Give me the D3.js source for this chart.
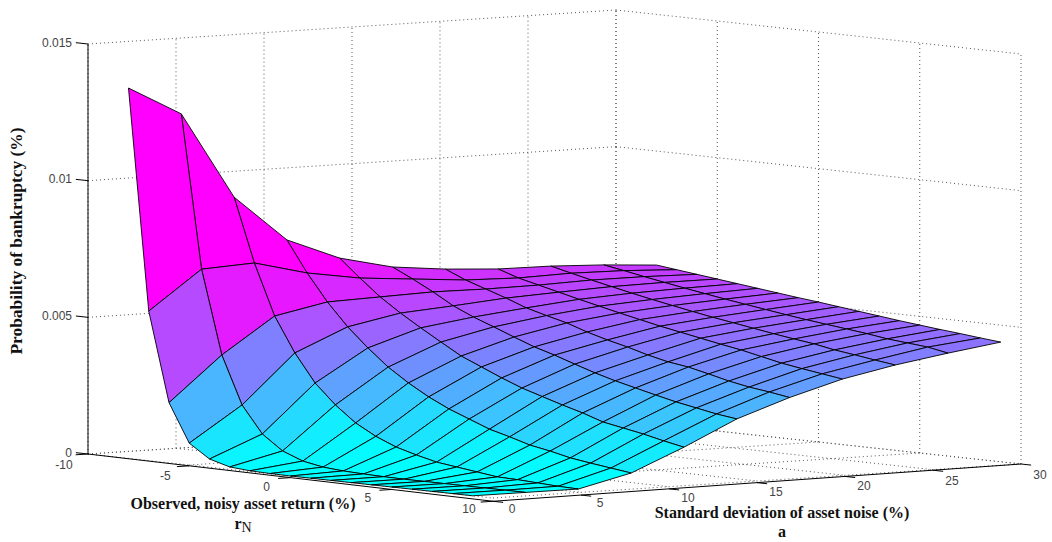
<!DOCTYPE html>
<html>
<head>
<meta charset="utf-8">
<script src="https://d3js.org/d3.v7.min.js"></script>
<style>
  html, body { margin: 0; padding: 0; background: #fff; }
  svg { display: block; }
  .tick-label { font-family: "Liberation Sans", Arial, sans-serif; font-size: 12px; fill: #444; text-anchor: middle; }
  .axis-title { font-family: "Liberation Serif", "Times New Roman", serif; font-size: 16px; font-weight: bold; fill: #111; text-anchor: middle; }
  .grid { fill: none; stroke: #555; stroke-width: 1; stroke-dasharray: 1 3; }
  .axis-line { stroke: #000; stroke-width: 1; fill: none; }
  .face { stroke: #000; stroke-width: 0.9; stroke-linejoin: round; }
</style>
</head>
<body>
<svg width="1052" height="542"></svg>
<script>
var aTicks = [0, 5, 10, 15, 20, 25, 30];
var rTicks = [-10, -5, 0, 5, 10];
var zTicks = [0, 0.005, 0.01, 0.015];
var zTickLabels = ["0", "0.005", "0.01", "0.015"];

// surface grid
var aValues = [0, 3, 6, 9, 12, 15, 18, 21, 24, 27, 30];
var rValues = [-8, -7, -6, -5, -4, -3, -2, -1, 0, 1, 2, 3, 4, 5, 6, 7, 8, 9];

// probability, one list per a, r from -8 to 9
var zA0  = [.01355, .00547, .0022, .0008, .0003, .00009, .00003, .00001, 0, 0, 0, 0, 0, 0, 0, 0, 0, 0];
var zA3  = [.01248, .00688, .00382, .00207, .00109, .00055, .00026, .00012, .00006, .00003, .00001, 0, 0, 0, 0, 0, 0, 0];
var zA6  = [.00931, .00698, .00512, .00385, .00283, .00211, .00153, .00112, .00081, .0006, .00042, .00032, .00022, .00012, .0001, .00006, .00002, 0];
var zA9  = [.00762, .00649, .00551, .00468, .00399, .00337, .00287, .00244, .00208, .00179, .0015, .0013, .00108, .00094, .00077, .00066, .00056, .00046];
var zA12 = [.00683, .00618, .00557, .00506, .0046, .00416, .00373, .00341, .00309, .0028, .00257, .00234, .00213, .00188, .00174, .0016, .00143, .00128];
var zA15 = [.00638, .00602, .00563, .0052, .00487, .00459, .0043, .00402, .0038, .00355, .00331, .0031, .00292, .00274, .00257, .00243, .00229, .00219];
var zA18 = [.00618, .00586, .00561, .00536, .00508, .00488, .00469, .00444, .00423, .00405, .00384, .00367, .00356, .00339, .00321, .00307, .00297, .00285];
var zA21 = [.00606, .00581, .00563, .00545, .00527, .0051, .00493, .00477, .00461, .00447, .00433, .00419, .00406, .0039, .00374, .00362, .00351, .0034];
var zA24 = [.00604, .00586, .00569, .00553, .00537, .00522, .00508, .00494, .00481, .00469, .00457, .00445, .00434, .00424, .0041, .004, .00389, .00379];
var zA27 = [.00596, .00583, .00569, .00556, .00543, .00531, .00519, .00508, .00497, .00486, .00476, .00467, .00458, .00449, .00438, .00431, .00424, .0041];
var zA30 = [.00583, .00574, .00565, .00556, .00547, .00538, .00529, .0052, .00512, .00503, .00494, .00485, .00476, .00468, .0046, .00453, .00445, .00438];
var zByA = [zA0, zA3, zA6, zA9, zA12, zA15, zA18, zA21, zA24, zA27, zA30];

var svg = d3.select("svg");

// oblique box: each data axis adds its own screen shift
var originX = 88, originY = 454;
var aToX = d3.scaleLinear().domain([0, 30]).range([0, 528]);
var aToY = d3.scaleLinear().domain([0, 30]).range([0, -34]);
var rToX = d3.scaleLinear().domain([-10, 10]).range([0, 405]);
var rToY = d3.scaleLinear().domain([-10, 10]).range([0, 44]);
var zToY = d3.scaleLinear().domain([0, 0.015]).range([0, -410]);

var color = d3.scaleLinear().domain([0, 0.0077]).range(["#00ffff", "#ff00ff"]).clamp(true);

function px(a, r) { return originX + aToX(a) + rToX(r); }
function py(a, r, z) { return originY + aToY(a) + rToY(r) + zToY(z); }

function segment(sel, cls, a0, r0, z0, a1, r1, z1) {
  sel.append("line")
    .attr("class", cls)
    .attr("x1", px(a0, r0)).attr("y1", py(a0, r0, z0))
    .attr("x2", px(a1, r1)).attr("y2", py(a1, r1, z1));
}

var grid = svg.append("g");
aTicks.forEach(function(a) {
  segment(grid, "grid", a, -10, 0, a, 10, 0);
  segment(grid, "grid", a, -10, 0, a, -10, 0.015);
});
rTicks.forEach(function(r) {
  segment(grid, "grid", 0, r, 0, 30, r, 0);
  segment(grid, "grid", 30, r, 0, 30, r, 0.015);
});
zTicks.forEach(function(z) {
  segment(grid, "grid", 0, -10, z, 30, -10, z);
  segment(grid, "grid", 30, -10, z, 30, 10, z);
});

// the front corner of the floor sits a little lower in the reference
var cornerDrop = -0.00012;

var axes = svg.append("g");
segment(axes, "axis-line", 0, -10, 0, 0, -10, 0.015);
segment(axes, "axis-line", 0, -10, 0, 0, 10, cornerDrop);
segment(axes, "axis-line", 0, 10, cornerDrop, 30, 10, 0);

zTicks.forEach(function(z, i) {
  segment(axes, "axis-line", 0, -10, z, 0, -10.6, z);
  axes.append("text").attr("class", "tick-label")
    .attr("x", 72).attr("y", py(0, -10, z) + 2.5)
    .style("text-anchor", "end")
    .text(zTickLabels[i]);
});
rTicks.forEach(function(r) {
  var drop = cornerDrop * (r + 10) / 20;
  segment(axes, "axis-line", 0, r, drop, -0.7, r, drop);
  axes.append("text").attr("class", "tick-label")
    .attr("x", px(0, r) - 24).attr("y", py(0, r, 0) + 15)
    .text(r);
});
aTicks.forEach(function(a) {
  var drop = cornerDrop * (30 - a) / 30;
  segment(axes, "axis-line", a, 10, drop, a, 10.5, drop);
  axes.append("text").attr("class", "tick-label")
    .attr("x", px(a, 10) + 19).attr("y", py(a, 10, 0) + 15)
    .text(a);
});

// faces, far corner first so nearer ones cover them
var cells = [];
for (var i = aValues.length - 2; i >= 0; i--) {
  for (var j = 0; j < rValues.length - 1; j++) {
    cells.push({i: i, j: j});
  }
}

function corner(i, j) {
  return [px(aValues[i], rValues[j]), py(aValues[i], rValues[j], zByA[i][j])];
}

svg.append("g").selectAll("path")
  .data(cells)
  .join("path")
    .attr("class", "face")
    .attr("fill", function(d) { return color(zByA[d.i][d.j]); })
    .attr("d", function(d) {
      return d3.line()([
        corner(d.i, d.j), corner(d.i + 1, d.j),
        corner(d.i + 1, d.j + 1), corner(d.i, d.j + 1)
      ]) + "Z";
    });

var titles = svg.append("g");
titles.append("text").attr("class", "axis-title")
  .attr("transform", "translate(22,241) rotate(-90)")
  .attr("textLength", 227)
  .attr("lengthAdjust", "spacingAndGlyphs")
  .text("Probability of bankruptcy (%)");
titles.append("text").attr("class", "axis-title")
  .attr("x", 243).attr("y", 509)
  .text("Observed, noisy asset return (%)");
titles.append("text").attr("class", "axis-title")
  .attr("x", 243).attr("y", 529)
  .html('r<tspan dy="3" style="font-weight:normal;font-size:14px">N</tspan>');
titles.append("text").attr("class", "axis-title")
  .attr("x", 782).attr("y", 518)
  .text("Standard deviation of asset noise (%)");
titles.append("text").attr("class", "axis-title")
  .attr("x", 782).attr("y", 537)
  .text("a");
</script>
</body>
</html>
